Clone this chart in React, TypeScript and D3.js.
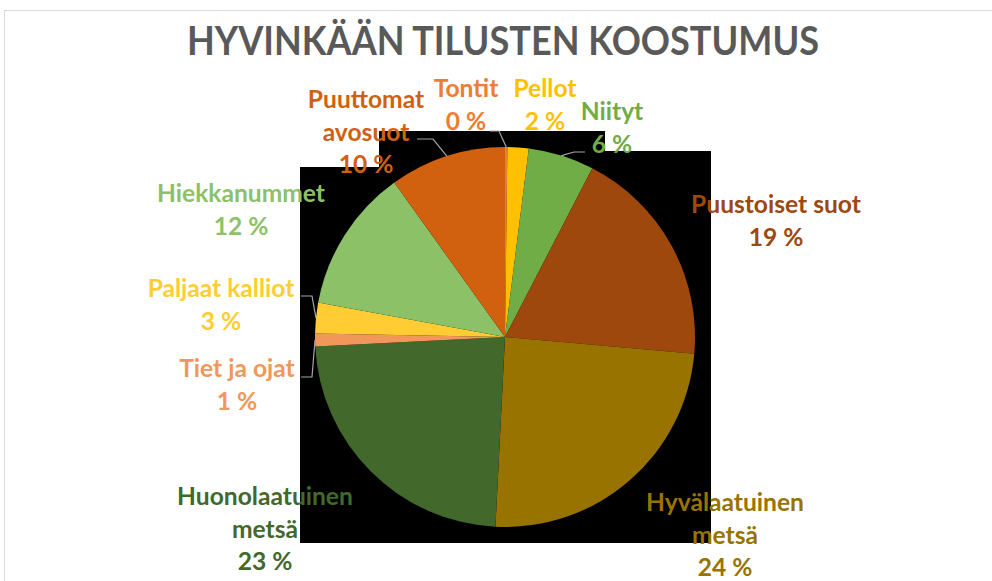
import React from "react";
import * as d3 from "d3";

const categories = [
    "Tontit", "Pellot", "Niityt", "Puustoiset suot", "Hyvälaatuinen metsä",
    "Huonolaatuinen metsä", "Tiet ja ojat", "Paljaat kalliot", "Hiekkanummet", "Puuttomat avosuot"
];
const shares = [0.2, 1.8, 5.6, 18.8, 24.4, 23.4, 1.1, 2.6, 12.2, 9.9];
const sliceColours = [
    "#ED7D31", "#FFC000", "#70AD47", "#9E480E", "#997300",
    "#43682B", "#F1975A", "#FFCD33", "#8CC168", "#D1600F"
];
const labelLines = [
    ["Tontit"], ["Pellot"], ["Niityt"], ["Puustoiset suot"], ["Hyvälaatuinen", "metsä"],
    ["Huonolaatuinen", "metsä"], ["Tiet ja ojat"], ["Paljaat kalliot"], ["Hiekkanummet"], ["Puuttomat", "avosuot"]
];

// label layout: centre x, first baseline y, and optional leader (label side point + elbow)
const labelLayout = [
    { x: 466, y: 97, leader: [[490, 131], [499, 131]] },
    { x: 545, y: 97 },
    { x: 612, y: 120, leader: [[585, 152], [574, 152]] },
    { x: 776, y: 213 },
    { x: 725, y: 511 },
    { x: 265, y: 505 },
    { x: 237, y: 377, leader: [[301, 377], [312, 377]] },
    { x: 221, y: 297, leader: [[301, 296], [312, 296]] },
    { x: 241, y: 202 },
    { x: 366, y: 108, leader: [[417, 139], [433, 139]] },
];

const W = 992;
const H = 581;
const cx = 505;
const cy = 337;
const radius = 190;
const lineHeight = 32.5;
const font = "Lato, 'Open Sans', sans-serif";

const App = () => {
    const data = categories.map((name, i) => ({ name, value: shares[i], i }));
    const total = d3.sum(shares);

    const pie = d3.pie<any>().value(d => d.value).sort(null).startAngle(0).endAngle(2 * Math.PI);
    const arcs = pie(data);
    const arc = d3.arc<any>().innerRadius(0).outerRadius(radius);
    const edgeArc = d3.arc<any>().innerRadius(radius).outerRadius(radius);

    const pad = 16;
    const bx0 = cx - radius - 15;
    const bx1 = cx + radius + 16;
    const by0 = cy - radius - pad;
    const by1 = cy + radius + pad;

    return (
        <svg width={W} height={H} style={{ position: "absolute", left: 0, top: 0, background: "white" }}>
            <rect x={4.5} y={10.5} width={W} height={H} fill="white" stroke="#D9D9D9" />
            <text
                x={503}
                y={55}
                textAnchor="middle"
                fontFamily={font}
                fontWeight="bold"
                fontSize={40}
                fill="#595959"
                textLength={632}
                lengthAdjust="spacingAndGlyphs"
            >
                HYVINKÄÄN TILUSTEN KOOSTUMUS
            </text>

            {/* black plot backdrop with the label boxes cut out */}
            <rect x={bx0} y={by0} width={bx1 - bx0} height={by1 - by0} fill="black" />
            <rect x={bx0} y={by0} width={379 - bx0} height={167 - by0} fill="white" />
            <rect x={605} y={by0} width={bx1 - 605} height={151 - by0} fill="white" />

            <g transform={`translate(${cx},${cy})`}>
                {arcs.map(a => (
                    <path key={a.data.name} d={arc(a) || ""} fill={sliceColours[a.data.i]} />
                ))}
            </g>

            {arcs.map(a => {
                const lay = labelLayout[a.data.i];
                if (!lay.leader) return null;
                const [ex, ey] = edgeArc.centroid(a);
                const pts = [...lay.leader, [cx + ex, cy + ey]];
                return (
                    <path
                        key={"l" + a.data.name}
                        d={d3.line()(pts as [number, number][]) || ""}
                        fill="none"
                        stroke="#A6A6A6"
                        strokeWidth={1.2}
                    />
                );
            })}

            {arcs.map(a => {
                const lay = labelLayout[a.data.i];
                const lines = [...labelLines[a.data.i], `${Math.round((a.data.value / total) * 100)} %`];
                return (
                    <text
                        key={"t" + a.data.name}
                        textAnchor="middle"
                        fontFamily={font}
                        fontWeight="bold"
                        fontSize={24.6}
                        fill={sliceColours[a.data.i]}
                    >
                        {lines.map((ln, k) => (
                            <tspan key={k} x={lay.x} y={lay.y + k * lineHeight}>{ln}</tspan>
                        ))}
                    </text>
                );
            })}
        </svg>
    );
};

export default App;
